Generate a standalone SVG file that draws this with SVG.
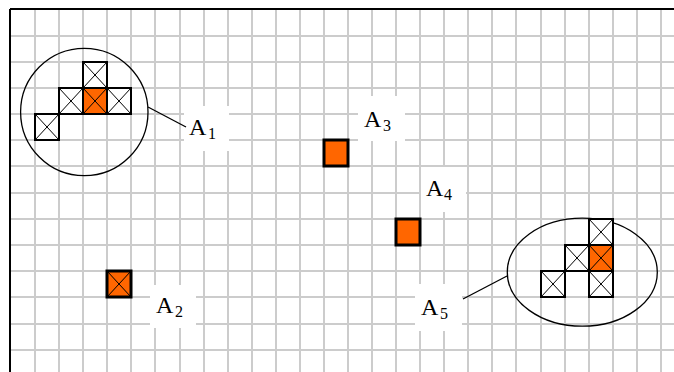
<svg xmlns="http://www.w3.org/2000/svg" width="674" height="372" viewBox="0 0 674 372">
<style>
.grid{stroke:#cccccc;stroke-width:2;fill:none}
.bg{fill:#ffffff;stroke:none}
.ring{fill:none;stroke:#000;stroke-width:1.3}
.lead{stroke:#000;stroke-width:1.3;fill:none}
.xc{fill:#ffffff;stroke:#000;stroke-width:2}
.oc{fill:#ff6600;stroke:#000;stroke-width:2}
.ob{fill:#ff6600;stroke:#000;stroke-width:3}
.x{stroke:#000;stroke-width:1;fill:none}
.lab{font-family:"Liberation Serif",serif;font-size:24px;fill:#000}
.sub{font-family:"Liberation Serif",serif;font-size:16px;fill:#000}
</style>
<rect x="0" y="0" width="674" height="372" fill="#ffffff"/>
<g id="grid">
<path class="grid" d="M35 10V372M59 10V372M83 10V372M107 10V372M131 10V372M155 10V372M180 10V372M204 10V372M228 10V372M252 10V372M276 10V372M300 10V372M324 10V372M348 10V372M372 10V372M396 10V372M420 10V372M444 10V372M468 10V372M492 10V372M516 10V372M541 10V372M565 10V372M589 10V372M613 10V372M637 10V372M661 10V372"/>
<path class="grid" d="M11 36H674M11 62H674M11 88H674M11 114H674M11 140H674M11 166H674M11 193H674M11 219H674M11 245H674M11 271H674M11 297H674M11 324H674M11 350H674"/>
<path d="M10 9H674M10 9V372" stroke="#000" stroke-width="2" fill="none"/>
</g>
<g id="label-backgrounds">
<rect class="bg" x="184" y="106" width="45" height="45"/>
<rect class="bg" x="358" y="96" width="47" height="45"/>
<rect class="bg" x="421" y="167" width="45" height="45"/>
<rect class="bg" x="150" y="285" width="46" height="43"/>
<rect class="bg" x="415" y="284" width="47" height="47"/>
</g>
<g id="connectors">
<line class="lead" x1="148" y1="107" x2="186" y2="127"/>
<line class="lead" x1="507" y1="276" x2="463" y2="299"/>
</g>
<g id="A1">
<circle class="ring" cx="84.3" cy="112" r="63.7"/>
<rect class="xc" x="83" y="62" width="24" height="26"/><path class="x" d="M83 62L107 88M107 62L83 88"/>
<rect class="xc" x="59" y="88" width="24" height="26"/><path class="x" d="M59 88L83 114M83 88L59 114"/>
<rect class="oc" x="83" y="88" width="24" height="26"/><path class="x" d="M83 88L107 114M107 88L83 114"/>
<rect class="xc" x="107" y="88" width="24" height="26"/><path class="x" d="M107 88L131 114M131 88L107 114"/>
<rect class="xc" x="35" y="114" width="24" height="26"/><path class="x" d="M35 114L59 140M59 114L35 140"/>
<text class="lab" x="189" y="135">A</text><text class="sub" x="208" y="139">1</text>
</g>
<g id="A2">
<rect class="ob" x="107" y="271" width="24" height="26"/><path class="x" d="M107 271L131 297M131 271L107 297"/>
<text class="lab" x="156" y="313">A</text><text class="sub" x="175" y="317">2</text>
</g>
<g id="A3">
<rect class="ob" x="324" y="140" width="24" height="26"/>
<text class="lab" x="364" y="127">A</text><text class="sub" x="383" y="131">3</text>
</g>
<g id="A4">
<rect class="ob" x="396" y="219" width="24" height="26"/>
<text class="lab" x="426" y="196">A</text><text class="sub" x="444" y="200">4</text>
</g>
<g id="A5">
<ellipse class="ring" cx="582.3" cy="272.2" rx="75" ry="54"/>
<rect class="xc" x="589" y="219" width="24" height="26"/><path class="x" d="M589 219L613 245M613 219L589 245"/>
<rect class="xc" x="565" y="245" width="24" height="26"/><path class="x" d="M565 245L589 271M589 245L565 271"/>
<rect class="oc" x="589" y="245" width="24" height="26"/><path class="x" d="M589 245L613 271M613 245L589 271"/>
<rect class="xc" x="541" y="271" width="24" height="26"/><path class="x" d="M541 271L565 297M565 271L541 297"/>
<rect class="xc" x="589" y="271" width="24" height="26"/><path class="x" d="M589 271L613 297M613 271L589 297"/>
<text class="lab" x="421" y="315">A</text><text class="sub" x="440" y="319">5</text>
</g>
</svg>
